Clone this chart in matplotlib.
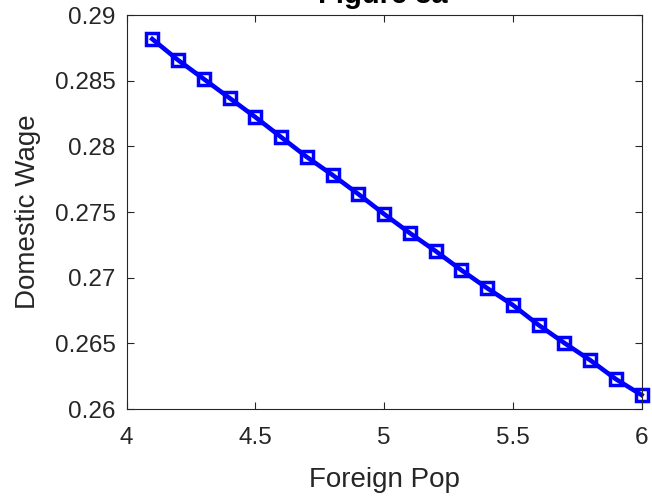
import matplotlib.pyplot as plt

# Daten
foreign_pop = [4.1, 4.2, 4.3, 4.4, 4.5, 4.6, 4.7, 4.8, 4.9, 5.0,
               5.1, 5.2, 5.3, 5.4, 5.5, 5.6, 5.7, 5.8, 5.9, 6.0]
domestic_wage = [0.28817, 0.28657, 0.28513, 0.28368, 0.28223, 0.28071, 0.27919,
                 0.27782, 0.27637, 0.27485, 0.27340, 0.27203, 0.27058, 0.26921,
                 0.26792, 0.26640, 0.26503, 0.26373, 0.26228, 0.26107]
x_ticks = [4, 4.5, 5, 5.5, 6]
x_labels = ['4', '4.5', '5', '5.5', '6']
y_ticks = [0.26, 0.265, 0.27, 0.275, 0.28, 0.285, 0.29]
y_labels = ['0.26', '0.265', '0.27', '0.275', '0.28', '0.285', '0.29']

plt.rcParams['font.family'] = ['Liberation Sans', 'DejaVu Sans']

fig = plt.figure(figsize=(6.52, 4.98), dpi=100)
ax = fig.add_axes([126.5 / 652, 89 / 498, 515 / 652, 394 / 498])

ax.plot(foreign_pop, domestic_wage, color='#0000ff', linewidth=3.3,
        marker='s', markersize=8.6, markerfacecolor='none',
        markeredgewidth=2.5, markeredgecolor='#0000ff', clip_on=False)

ax.set_xlim(4, 6)
ax.set_ylim(0.26, 0.29)
ax.set_xticks(x_ticks)
ax.set_xticklabels(x_labels)
ax.set_yticks(y_ticks)
ax.set_yticklabels(y_labels)

ax.tick_params(direction='in', length=5, width=0.8, colors='#262626',
               labelsize=17.5, top=True, right=True)
ax.tick_params(axis='x', pad=13)
ax.tick_params(axis='y', pad=8)
for s in ax.spines.values():
    s.set_color('#262626')
    s.set_linewidth(0.8)

ax.set_xlabel('Foreign Pop', fontsize=20, color='#262626', labelpad=13)
ax.set_ylabel('Domestic Wage', fontsize=20, color='#262626', labelpad=10)
# Titel ragt oben aus dem Bild heraus, wie im Original
fig.text(383 / 652, 1 - 3 / 498, 'Figure 8a', fontsize=21, fontweight='bold',
         color='#000000', ha='center', va='baseline')

fig.savefig('out.png', dpi=100)
